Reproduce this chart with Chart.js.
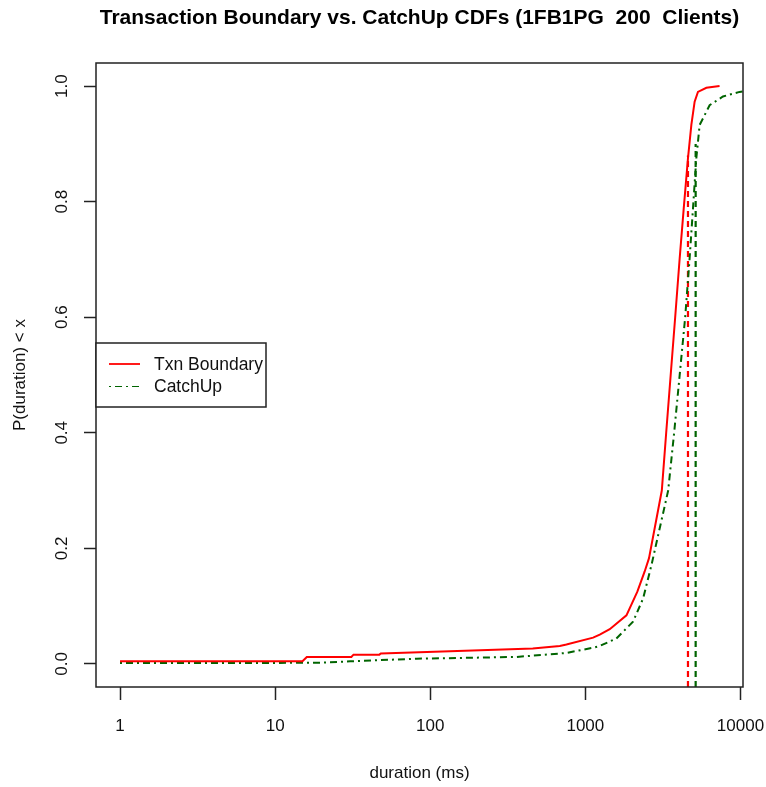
<!DOCTYPE html>
<html><head><meta charset="utf-8">
<script src="https://cdn.jsdelivr.net/npm/chart.js@4.4.1/dist/chart.umd.min.js"></script>
<style>html,body{margin:0;padding:0;background:#fff;} #wrap{width:766px;height:787px;}</style>
</head><body><div id="wrap"><canvas id="c" width="766" height="787"></canvas></div>
<script>
// ---- data ----
const txnX = [1, 15, 16, 31, 32, 47, 48, 134, 458, 684, 755, 1122, 1238, 1436, 1840, 2163, 2412, 2572, 3110, 3319, 3548, 3793, 4055, 4305, 4586, 4822, 5063, 5318, 6025, 7330];
const txnY = [0.0045, 0.0045, 0.012, 0.012, 0.016, 0.016, 0.018, 0.022, 0.0265, 0.031, 0.0334, 0.0455, 0.0507, 0.06, 0.084, 0.125, 0.16, 0.183, 0.3, 0.4, 0.5, 0.6, 0.702, 0.788, 0.875, 0.933, 0.973, 0.990, 0.997, 1.0];
const catchX = [1, 10, 20, 30.4, 81.7, 360, 684, 755, 1122, 1238, 1585, 2028, 2355, 2667, 3418, 3735, 4055, 4400, 4700, 4940, 5190, 5455, 5727, 6325, 7710, 9860, 10380];
const catchY = [0.0017, 0.0017, 0.002, 0.0045, 0.009, 0.012, 0.018, 0.019, 0.028, 0.031, 0.044, 0.073, 0.113, 0.171, 0.3, 0.4, 0.5, 0.6, 0.702, 0.788, 0.875, 0.933, 0.944, 0.967, 0.982, 0.990, 0.991];
const txnMark = {x: 4586, top: 0.88};
const catchMark = {x: 5140, top: 0.90};
const xTickValues = [1, 10, 100, 1000, 10000];
const yTickValues = [0, 0.2, 0.4, 0.6, 0.8, 1.0];
const xRange = [0.7, 10380];
const yRange = [-0.04, 1.04];
const seriesNames = ['Txn Boundary', 'CatchUp'];
const titleText = 'Transaction Boundary vs. CatchUp CDFs (1FB1PG  200  Clients)';

const RED = '#ff0000', GREEN = '#006400';
const FONT = '"Liberation Sans", Arial, sans-serif';
const GREEN_DASH = [2, 4, 7, 4];

const pts = (xs, ys) => xs.map((x, i) => ({x, y: ys[i]}));
const markPts = m => [{x: m.x, y: yRange[0]}, {x: m.x, y: m.top}];

const framePlugin = {
  id: 'frameLegend',
  afterDraw(chart) {
    const ctx = chart.ctx, a = chart.chartArea;
    ctx.save();
    ctx.strokeStyle = '#222';
    ctx.lineWidth = 1.5;
    ctx.strokeRect(a.left, a.top, a.right - a.left, a.bottom - a.top);
    // legend box (R legend "left")
    const midY = (a.top + a.bottom) / 2;
    const bx = a.left, by = midY - 32, bw = 170, bh = 64;
    ctx.fillStyle = '#fff';
    ctx.fillRect(bx, by, bw, bh);
    ctx.strokeRect(bx, by, bw, bh);
    const rows = [
      {label: seriesNames[0], color: RED, dash: [], y: by + 21},
      {label: seriesNames[1], color: GREEN, dash: GREEN_DASH, y: by + 43.5}
    ];
    ctx.font = '17.5px ' + FONT;
    ctx.textBaseline = 'middle';
    ctx.textAlign = 'left';
    rows.forEach(r => {
      ctx.beginPath();
      ctx.setLineDash(r.dash);
      ctx.strokeStyle = r.color;
      ctx.lineWidth = r.dash.length ? 1.2 : 1.8;
      ctx.moveTo(bx + 13, r.y);
      ctx.lineTo(bx + 44, r.y);
      ctx.stroke();
      ctx.setLineDash([]);
      ctx.fillStyle = '#111';
      ctx.fillText(r.label, bx + 58, r.y + 1);
    });
    ctx.restore();
  }
};

new Chart(document.getElementById('c'), {
  type: 'scatter',
  data: {
    datasets: [
      {label: seriesNames[0], data: pts(txnX, txnY), showLine: true, borderColor: RED, borderWidth: 2, pointRadius: 0, tension: 0},
      {label: seriesNames[1], data: pts(catchX, catchY), showLine: true, borderColor: GREEN, borderWidth: 2, borderDash: GREEN_DASH, pointRadius: 0, tension: 0},
      {label: 'txnMark', data: markPts(txnMark), showLine: true, borderColor: RED, borderWidth: 2.2, borderDash: [6, 4], pointRadius: 0},
      {label: 'catchMark', data: markPts(catchMark), showLine: true, borderColor: GREEN, borderWidth: 2.2, borderDash: [6, 4], pointRadius: 0}
    ]
  },
  options: {
    responsive: false,
    animation: false,
    devicePixelRatio: 1,
    layout: {padding: {left: 0, right: 23, top: 0, bottom: 0}},
    plugins: {
      legend: {display: false},
      tooltip: {enabled: false},
      title: {
        display: true, text: titleText, fullSize: false, color: '#000',
        font: {family: FONT, size: 21, weight: 'bold', lineHeight: 1.2},
        padding: {top: 6, bottom: 31.8}
      }
    },
    scales: {
      x: {
        type: 'logarithmic', min: xRange[0], max: xRange[1],
        border: {display: false},
        grid: {display: true, drawOnChartArea: false, drawTicks: true, tickLength: 13, tickColor: '#222', tickWidth: 1.5},
        afterBuildTicks: s => { s.ticks = xTickValues.map(v => ({value: v})); },
        afterFit: s => { s.height = 100; s.paddingLeft = 0; s.paddingRight = 0; },
        ticks: {autoSkip: false, maxRotation: 0, minRotation: 0, color: '#111', padding: 16,
          font: {family: FONT, size: 17}, callback: v => String(v)},
        title: {display: true, text: 'duration (ms)', color: '#111', font: {family: FONT, size: 17, lineHeight: 1.2}, padding: {top: 0, bottom: 3}}
      },
      y: {
        min: yRange[0], max: yRange[1],
        border: {display: false},
        grid: {display: true, drawOnChartArea: false, drawTicks: true, tickLength: 12, tickColor: '#222', tickWidth: 1.5},
        afterBuildTicks: s => { s.ticks = yTickValues.map(v => ({value: v})); },
        afterFit: s => { s.width = 96; s.paddingTop = 0; s.paddingBottom = 0; },
        ticks: {autoSkip: false, minRotation: 90, maxRotation: 90, crossAlign: 'center', padding: 10, color: '#111',
          font: {family: FONT, size: 17}, callback: v => Number(v).toFixed(1)},
        title: {display: true, text: 'P(duration) < x', color: '#111', font: {family: FONT, size: 17, lineHeight: 1.2}, padding: {top: 10, bottom: 0}}
      }
    }
  },
  plugins: [framePlugin]
});
</script>
</body></html>
